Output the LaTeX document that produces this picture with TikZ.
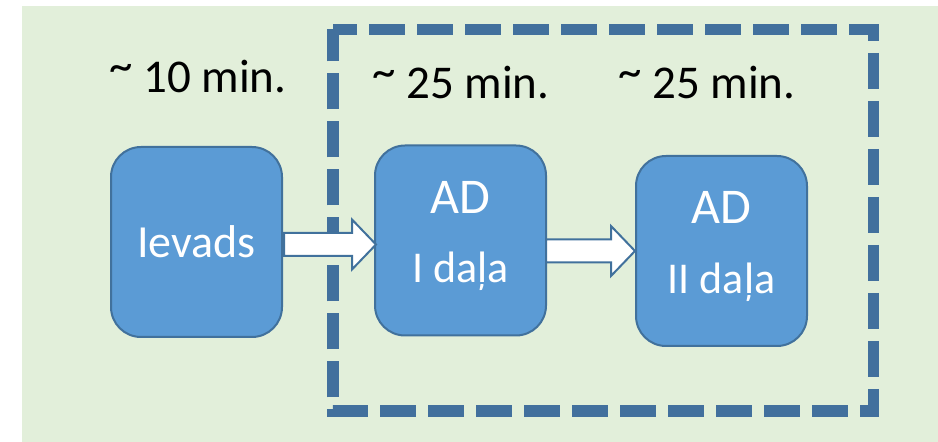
\documentclass[tikz,border=0pt]{standalone}
\usepackage{fontspec}
\setmainfont{Carlito}
\usetikzlibrary{calc}
\definecolor{bggreen}{RGB}{226,239,218}
\definecolor{boxfill}{RGB}{91,155,213}
\definecolor{boxline}{RGB}{65,113,156}
\definecolor{frameblue}{RGB}{66,112,157}
\newcommand{\flowarrow}[2]{%
    \draw[blockarrow] let \p1=(#1), \p2=(#2) in
        (\x1,\y1-11.5) -- (\x2-24,\y1-11.5) -- (\x2-24,\y1-25) -- (\x2,\y1)
        -- (\x2-24,\y1+25) -- (\x2-24,\y1+11.5) -- (\x1,\y1+11.5) -- cycle;}
\newcommand{\approxsign}{\raisebox{11pt}{\textasciitilde}}
\tikzset{
    stage/.style={rectangle, rounded corners=30, draw=boxline, line width=2,
        fill=boxfill, text=white, minimum width=171, minimum height=190,
        align=center, inner sep=0, font=\fontsize{46}{55}\selectfont},
    twoline/.style={text depth=18},
    timelbl/.style={anchor=base west, inner sep=0, font=\fontsize{47}{56}\selectfont},
    blockarrow/.style={draw=boxline, line width=2, fill=white, line join=miter},
    frame/.style={draw=frameblue, line width=11.5, dash pattern=on 36 off 12, dash phase=12}
}
\begin{document}
\begin{tikzpicture}[x=1pt,y=1pt]
    \useasboundingbox (0,0) rectangle (938,442);
    \fill[bggreen] (22,0) rectangle (938,436);
    \draw[frame] (333,412.5) -- (873.5,412.5) -- (873.5,31) -- (333,31) -- cycle;
    \node[timelbl] (t1) at (109,349) {\approxsign{} 10 min.};
    \node[timelbl] (t2) at (372,343) {\approxsign{} 25 min.};
    \node[timelbl] (t3) at (618,343) {\approxsign{} 25 min.};
    \node[stage] (ievads) at (196.5,200) {Ievads};
    \node[stage,twoline] (adone) at (460.5,201.5) {{\fontsize{50}{60}\selectfont AD}\\[14]{\fontsize{44}{53}\selectfont I daļa}};
    \node[stage,twoline] (adtwo) at (721.5,191) {{\fontsize{50}{60}\selectfont AD}\\[15]{\fontsize{44}{53}\selectfont II daļa}};
    \flowarrow{$(ievads.east)+(1,-2.5)$}{$(adone.west)+(2,0)$}
    \flowarrow{$(adone.east)+(-1,-10.5)$}{$(adtwo.west)+(0,0)$}
\end{tikzpicture}
\end{document}
